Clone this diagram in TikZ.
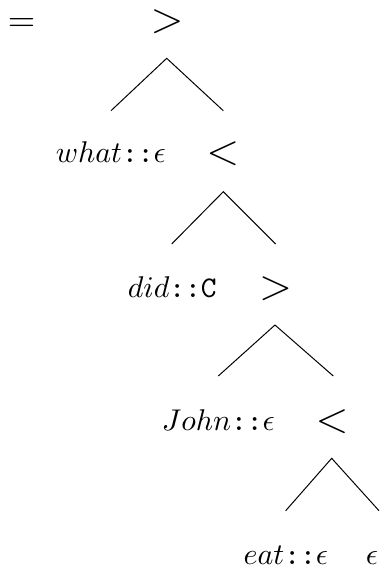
\documentclass[tikz,border=0pt]{standalone}
\begin{document}
\begin{tikzpicture}[x=0.3333pt,y=-0.3333pt,
  lbl/.style={anchor=base,inner sep=0pt},
  rel/.style={anchor=base,inner sep=0pt,font=\Large},
  eqs/.style={anchor=base,inner sep=0pt,font=\large},
  edge/.style={line width=0.33pt}]
\useasboundingbox (0,0) rectangle (387,568);
% labels
\node[eqs] (eq) at (21.7,31) {$=$};
\node[rel] (n1) at (167,32.3) {$>$};
\node[lbl] (what) at (110.8,162.5) {$what\texttt{::}\epsilon$};
\node[rel] (n2) at (222.8,164.5) {$<$};
\node[lbl] (did) at (172.3,297) {$did\texttt{::C}$};
\node[rel] (n3) at (275.5,299) {$>$};
\node[lbl] (john) at (218.3,430) {$John\texttt{::}\epsilon$};
\node[rel] (n4) at (332,432) {$<$};
\node[lbl] (eat) at (285.8,564) {$eat\texttt{::}\epsilon$};
\node[lbl] (eps) at (372,564) {$\epsilon$};
% branch points
\coordinate (a1) at (166.7,58.3);
\coordinate (l1) at (111,110.7);
\coordinate (r1) at (223.3,110.7);
\coordinate (a2) at (223.3,191.7);
\coordinate (l2) at (171.7,244);
\coordinate (r2) at (275.7,244);
\coordinate (a3) at (275,325);
\coordinate (l3) at (218.3,376);
\coordinate (r3) at (333.3,376);
\coordinate (a4) at (331.7,458.3);
\coordinate (l4) at (285.7,510.7);
\coordinate (r4) at (379,510.7);
\draw[edge] (l1) -- (a1) -- (r1);
\draw[edge] (l2) -- (a2) -- (r2);
\draw[edge] (l3) -- (a3) -- (r3);
\draw[edge] (l4) -- (a4) -- (r4);
\end{tikzpicture}
\end{document}
